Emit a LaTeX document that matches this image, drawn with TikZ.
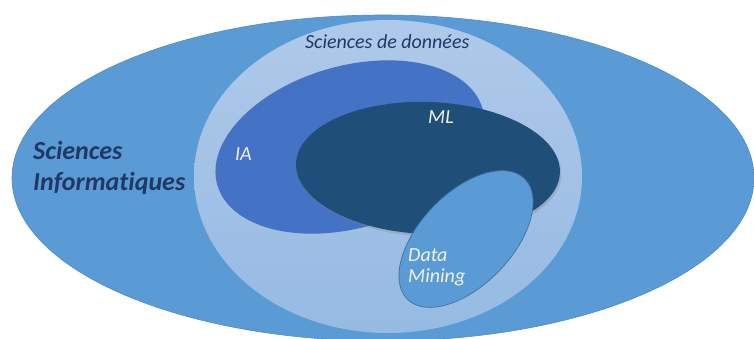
\documentclass[tikz,border=0pt]{standalone}
\usepackage{fontspec}
\setmainfont{Carlito}[Ligatures={NoCommon,NoRare}]
\usetikzlibrary{shapes.geometric,shadows}
\definecolor{outerblue}{HTML}{5B9BD5}
\definecolor{outeredge}{HTML}{4E8BC6}
\definecolor{lighttop}{HTML}{AFC9E9}
\definecolor{lightbot}{HTML}{96BAE2}
\definecolor{iablue}{HTML}{4472C4}
\definecolor{mlblue}{HTML}{1F4E79}
\definecolor{dmblue}{HTML}{5B9BD5}
\definecolor{dmedge}{HTML}{41719C}
\definecolor{navy}{HTML}{1F3864}
\definecolor{whitetxt}{HTML}{F2F2F2}
\tikzset{
  blob/.style={ellipse, inner sep=0pt, outer sep=0pt},
  navytext/.style={text=navy, font=\itshape, inner sep=0pt, anchor=base west},
  whitelabel/.style={text=whitetxt, font=\itshape\fontsize{20}{21}\selectfont, inner sep=0pt, anchor=base west}
}
\begin{document}
\begin{tikzpicture}[x=1pt,y=-1pt]
\useasboundingbox (0,0) rectangle (754,338);
\clip (0,0) rectangle (754,338);
% outer ellipse: Sciences Informatiques
\node[blob, fill=outerblue, draw=outeredge, line width=0.6pt,
      minimum width=742pt, minimum height=326pt] (outer) at (383,178) {};
% Sciences de donnees
\node[blob, top color=lighttop, bottom color=lightbot,
      minimum width=388pt, minimum height=313pt] (ds) at (388,176.5) {};
% IA
\node[blob, fill=iablue, minimum width=276pt, minimum height=162pt, rotate=16] (ia) at (350,147) {};
% ML
\node[blob, fill=mlblue, minimum width=264pt, minimum height=132pt, rotate=-2,
      drop shadow={opacity=0.3, shadow xshift=1.5pt, shadow yshift=-2.5pt}] (ml) at (428,168) {};
% Data Mining
\node[blob, fill=dmblue, draw=dmedge, line width=0.7pt,
      minimum width=168pt, minimum height=92pt, rotate=46] (dm) at (466,239) {};
% labels
\node[navytext, font=\bfseries\itshape\fontsize{26}{31}\selectfont, align=left, anchor=north west]
  (silabel) at (33,141) {Sciences\\Informatiques};
\node[navytext, font=\itshape\fontsize{20}{22}\selectfont] (dslabel) at (305,48) {Sciences de données};
\node[whitelabel] (ialabel) at (235,160) {IA};
\node[whitelabel] (mllabel) at (428,123) {ML};
\node[whitelabel, align=left, anchor=north west]
  (dmlabel) at (408,248.5) {Data\\Mining};
\end{tikzpicture}
\end{document}
